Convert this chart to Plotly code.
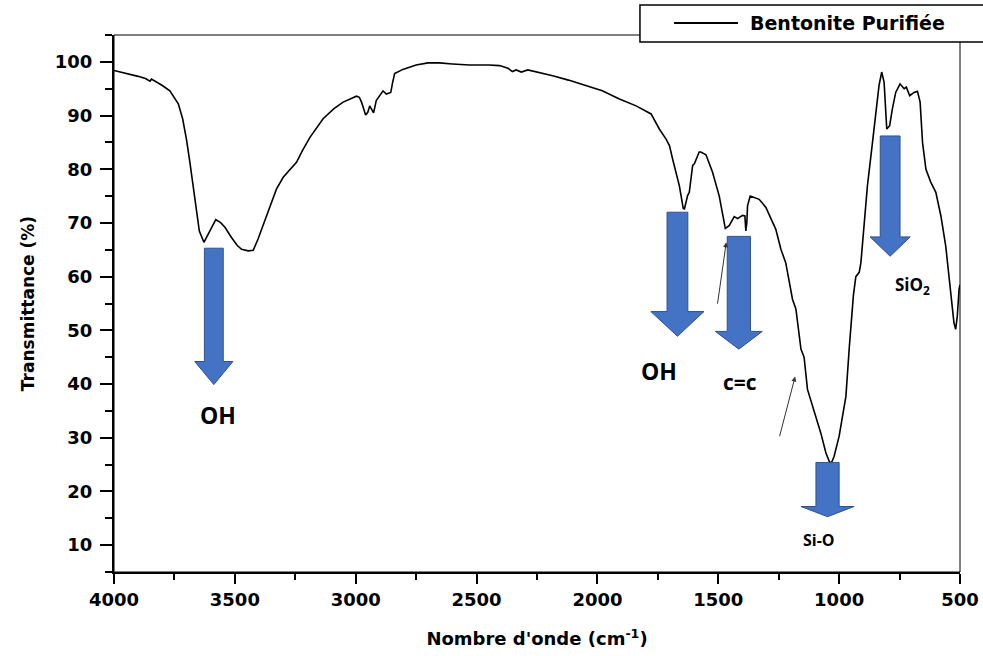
import plotly.graph_objects as go

# FTIR spectrum of purified bentonite: wavenumber (cm-1) vs transmittance (%)
wavenumber = [
    4000, 3950, 3900, 3870, 3851, 3845, 3800, 3769, 3734, 3716, 3700, 3686, 3665, 3647,
    3628, 3615, 3603, 3579, 3560, 3541, 3514, 3490, 3472, 3445, 3424, 3404,
    3369, 3328, 3300, 3270, 3245, 3220, 3190, 3135, 3090, 3052, 3020, 2997,
    2985, 2976, 2959, 2950, 2942, 2935, 2926, 2915, 2900, 2887, 2873, 2855,
    2848, 2839, 2805, 2750, 2701, 2653, 2600, 2529, 2450, 2405, 2370, 2352,
    2336, 2315, 2288, 2240, 2185, 2120, 2047, 1980, 1909, 1840, 1778, 1751,
    1744, 1716, 1702, 1689, 1675, 1661, 1645, 1640, 1627, 1620, 1606, 1599,
    1579, 1572, 1551, 1524, 1496, 1480, 1471, 1455, 1434, 1420, 1400, 1390,
    1386, 1382, 1379, 1368, 1358, 1331, 1303, 1262, 1241, 1221, 1193, 1179,
    1158, 1145, 1131, 1117, 1103, 1076, 1055, 1039, 1030, 1021, 1000, 985,
    972, 958, 941, 931, 917, 910, 904, 883, 862, 848, 835, 824, 814, 803,
    791, 780, 766, 748, 731, 722, 708, 690, 676, 665, 655, 641, 621, 600,
    579, 559, 538, 525, 518, 511, 504, 500,
]
transmittance = [
    98.4, 97.9, 97.3, 96.9, 96.4, 96.8, 95.6, 94.6, 92.2, 89.4, 85.5, 81.3, 74.4, 68.5,
    66.4, 67.5, 68.8, 70.6, 70.1, 69.2, 67.3, 65.8, 65.1, 64.8, 64.9, 67.0,
    71.3, 76.3, 78.5, 80.0, 81.3, 83.5, 85.9, 89.4, 91.3, 92.5, 93.2, 93.6,
    93.4, 92.5, 90.1, 90.6, 91.8, 91.3, 90.5, 92.8, 93.8, 94.6, 94.0, 94.3,
    96.0, 97.8, 98.6, 99.4, 99.8, 99.8, 99.6, 99.4, 99.4, 99.3, 98.8, 98.2,
    98.5, 98.1, 98.5, 98.0, 97.4, 96.6, 95.6, 94.6, 93.1, 91.8, 90.3, 88.1,
    87.5, 85.6, 84.4, 81.9, 79.4, 76.9, 72.7, 72.6, 75.1, 75.7, 80.7, 81.0,
    83.2, 83.2, 82.7, 79.5, 75.0, 71.0, 69.0, 69.5, 71.2, 70.8, 71.4, 71.3,
    68.5, 70.0, 73.2, 75.0, 74.8, 74.4, 72.9, 68.8, 65.1, 62.6, 55.8, 54.0,
    46.5, 45.0, 39.0, 37.0, 34.6, 30.9, 27.2, 25.4, 25.5, 26.5, 30.3, 34.0,
    37.7, 46.8, 56.5, 60.0, 60.8, 62.6, 66.0, 76.9, 85.0, 90.6, 95.6, 98.1,
    96.2, 87.5, 88.1, 91.2, 94.3, 95.9, 95.0, 95.3, 93.7, 94.3, 94.5, 92.5,
    85.0, 80.0, 77.6, 75.7, 71.3, 65.7, 57.0, 51.4, 50.2, 52.7, 57.6, 58.5,
]

x_ticks = [4000, 3500, 3000, 2500, 2000, 1500, 1000, 500]
y_ticks = [10, 20, 30, 40, 50, 60, 70, 80, 90, 100]

series_name = "Bentonite Purifiée"

# Band assignments: label, arrow centre (cm-1), arrow top / tip (%)
band_labels = ["OH", "OH", "c=c", "Si-O", "SiO<sub>2</sub>"]
band_centers = [3587, 1669, 1415, 1048, 789]
band_tops = [65.3, 72.0, 67.5, 25.4, 86.2]
band_tips = [39.9, 48.9, 46.5, 15.3, 63.8]

ARROW_FILL = "#4472C4"
ARROW_EDGE = "#2F528F"


def block_arrow(xc, y_top, y_tip, shaft_half, head_half, head_len):
    """SVG path of a downward block arrow in data coordinates."""
    y_neck = y_tip + head_len
    pts = [
        (xc - shaft_half, y_top), (xc + shaft_half, y_top),
        (xc + shaft_half, y_neck), (xc + head_half, y_neck),
        (xc, y_tip),
        (xc - head_half, y_neck), (xc - shaft_half, y_neck),
    ]
    return "M " + " L ".join(f"{px},{py}" for px, py in pts) + " Z"


fig = go.Figure()
fig.add_trace(go.Scatter(
    x=wavenumber, y=transmittance, mode="lines", name=series_name,
    line=dict(color="black", width=1.6), showlegend=False,
))

TICK_FONT = dict(family="DejaVu Sans", size=18, color="black", weight="bold")

fig.update_layout(
    width=983, height=656,
    margin=dict(l=114, r=23, t=35, b=84),
    paper_bgcolor="white", plot_bgcolor="white",
    xaxis=dict(
        range=[4000, 500], tickvals=x_ticks, ticks="outside", ticklen=10, tickwidth=2,
        tickcolor="black", showline=True, linewidth=2, linecolor="black",
        showgrid=False, zeroline=False, tickfont=TICK_FONT, automargin=False,
        minor=dict(dtick=250, ticks="outside", ticklen=6, tickwidth=2, tickcolor="black"),
        title=dict(text="Nombre d'onde (cm<sup>-1</sup>)",
                   font=dict(family="DejaVu Sans", size=18, color="black", weight="bold"),
                   standoff=24),
    ),
    yaxis=dict(
        range=[5, 105], tickvals=y_ticks, ticks="outside", ticklen=12, tickwidth=2,
        tickcolor="black", showline=True, linewidth=2, linecolor="black",
        showgrid=False, zeroline=False, tickfont=TICK_FONT, automargin=False,
        ticklabelstandoff=4,
        minor=dict(dtick=5, tick0=5, ticks="outside", ticklen=7, tickwidth=2, tickcolor="black"),
        title=dict(text="Transmittance (%)",
                   font=dict(family="DejaVu Sans", size=17, color="black", weight="bold"),
                   standoff=16),
    ),
)

shapes = [
    # thin frame on the top and right sides
    dict(type="rect", xref="paper", yref="paper", x0=0, x1=1, y0=0, y1=1,
         line=dict(color="black", width=1), layer="above"),
    # legend box
    dict(type="rect", xref="paper", yref="paper", x0=0.6217, x1=1.1, y0=0.987, y1=1.056,
         line=dict(color="black", width=1.5), fillcolor="white", layer="above"),
    dict(type="line", xref="paper", yref="paper", x0=0.662, x1=0.7376, y0=1.0223, y1=1.0223,
         line=dict(color="black", width=1.8), layer="above"),
]

arrow_geom = [  # shaft half width, head half width (cm-1), head length (%)
    (39, 79, 4.3), (43, 110, 4.6), (48, 97, 3.3), (48, 110, 1.9), (41, 83, 3.6),
]
for xc, yt, yb, (sh, hh, hl) in zip(band_centers, band_tops, band_tips, arrow_geom):
    shapes.append(dict(type="path", xref="x", yref="y",
                       path=block_arrow(xc, yt, yb, sh, hh, hl),
                       fillcolor=ARROW_FILL, line=dict(color=ARROW_EDGE, width=1)))
fig.update_layout(shapes=shapes)

annotations = [
    dict(text=series_name, xref="paper", yref="paper", x=0.7494, y=1.0223,
         xanchor="left", yanchor="middle", showarrow=False,
         font=dict(family="DejaVu Sans", size=19, color="black", weight="bold")),
]
label_pos = [(3570, 34.3, 23), (1744, 42.4, 23), (1409, 40.3, 21), (1083, 11.0, 16), (698, 58.4, 17)]
for text, (lx, ly, fs) in zip(band_labels, label_pos):
    annotations.append(dict(text=text, x=lx, y=ly, xref="x", yref="y", showarrow=False,
                            xanchor="center", yanchor="middle",
                            font=dict(family="Open Sans", size=fs, color="black", weight="bold")))
# small pointer arrows toward the shoulders
for (hx, hy), (tx, ty) in [((1467, 66.4), (1504, 54.7)), ((1182, 41.4), (1248, 30.0))]:
    annotations.append(dict(text="", x=hx, y=hy, ax=tx, ay=ty, xref="x", yref="y",
                            axref="x", ayref="y", showarrow=True, arrowhead=2,
                            arrowsize=1, arrowwidth=1, arrowcolor="#333333", standoff=0))
fig.update_layout(annotations=annotations)

fig.write_html("out.html")
